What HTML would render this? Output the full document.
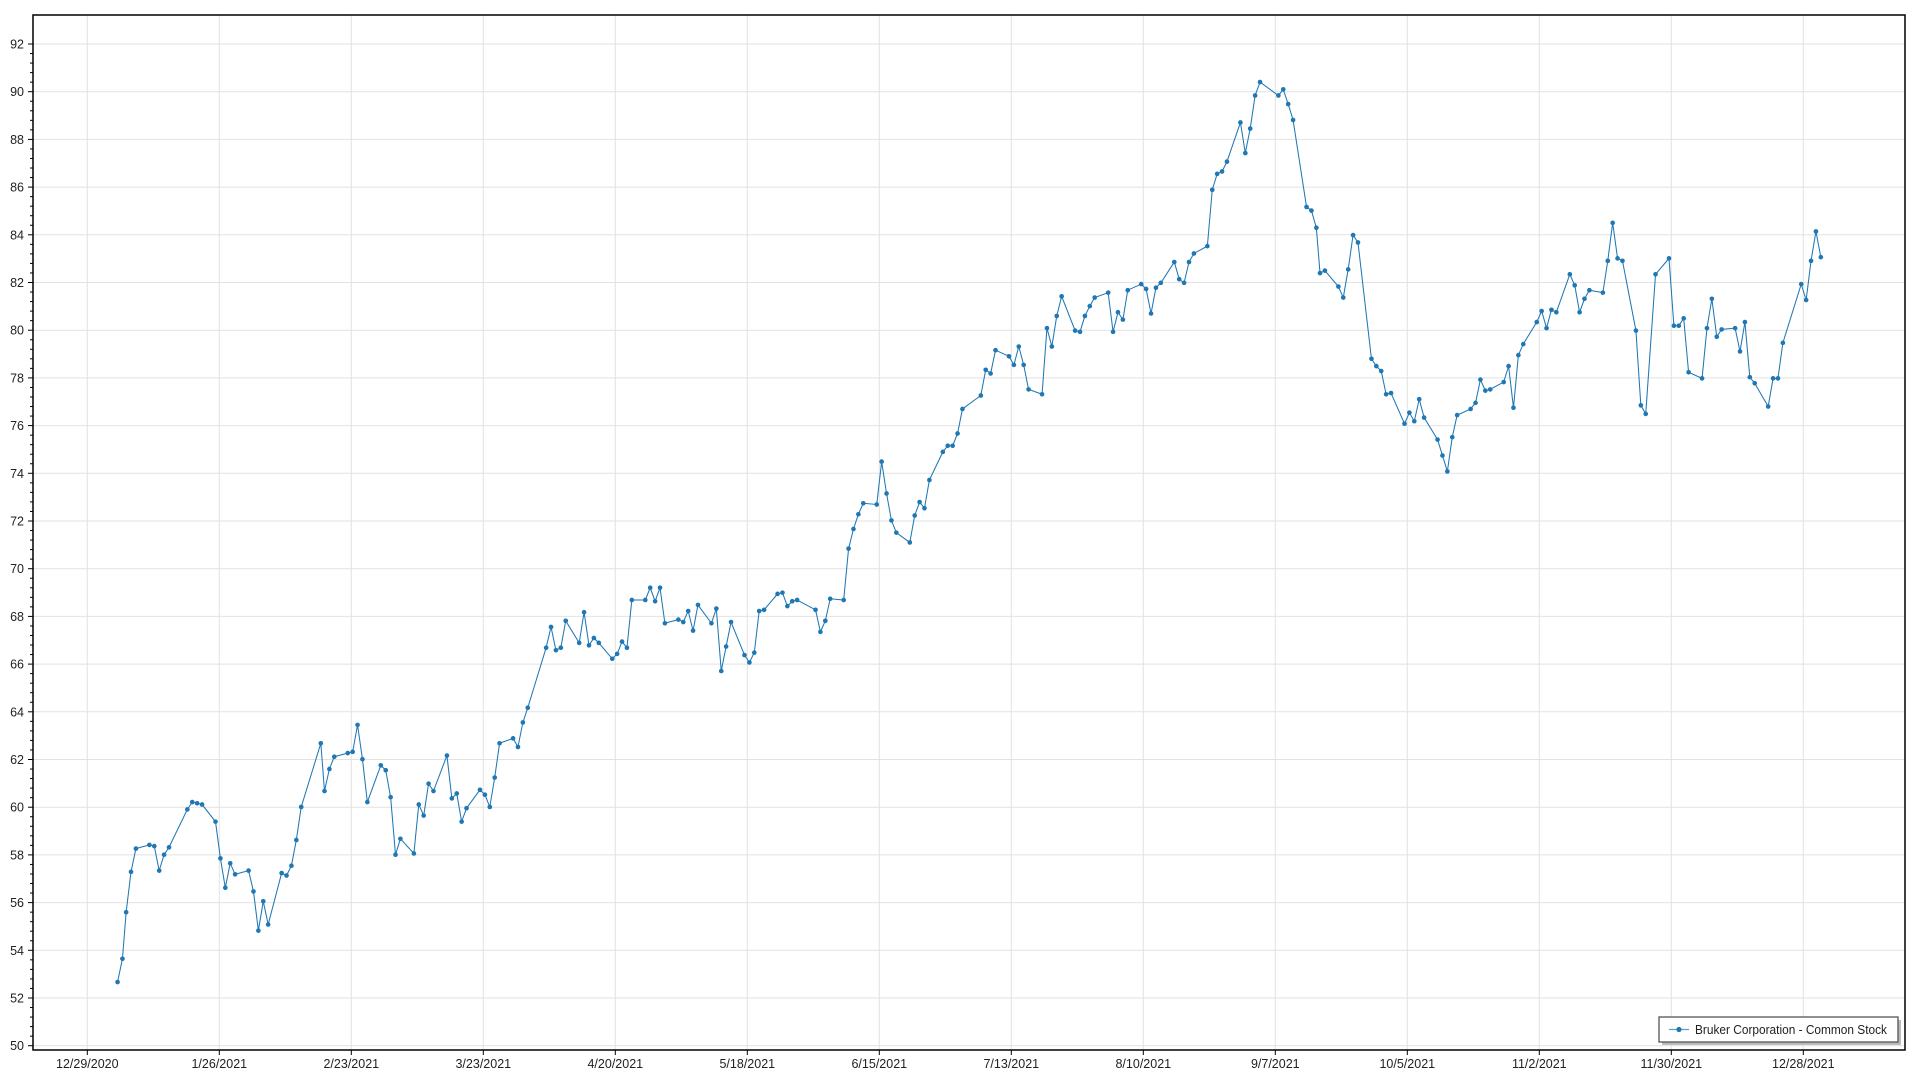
<!DOCTYPE html>
<html><head><meta charset="utf-8"><style>
html,body{margin:0;padding:0;background:#fff;}
svg text{font-family:"Liberation Sans","DejaVu Sans",sans-serif;font-size:12.5px;fill:#222;}
</style></head><body>
<svg id="s" width="1920" height="1080" viewBox="0 0 1920 1080" xmlns="http://www.w3.org/2000/svg">
<g id="grid"></g>
<g id="data" transform="scale(1.2245)"></g>
<rect x="33" y="15" width="1872" height="1035" fill="none" stroke="#000" stroke-width="1.5"/>
<g id="ticks"></g>
<rect x="1662" y="1020" width="239" height="25" fill="#bbb"/>
<rect x="1659" y="1017" width="239" height="25" fill="#fff" stroke="#555" stroke-width="1.3"/>
<line x1="1669" y1="1029.5" x2="1689" y2="1029.5" stroke="#1f77b4" stroke-width="1.3" opacity="0.7"/>
<circle cx="1679" cy="1029.5" r="2.6" fill="#1f77b4"/>
<text x="1695" y="1034" textLength="192" lengthAdjust="spacingAndGlyphs">Bruker Corporation - Common Stock</text>
</svg>
<script>
var ns="http://www.w3.org/2000/svg";
function el(p,t,a,txt){var e=document.createElementNS(ns,t);for(var k in a)e.setAttribute(k,a[k]);if(txt)e.textContent=txt;document.getElementById(p).appendChild(e);return e;}
function yv(v){return 44+(92-v)*23.85;}
for(var v=50;v<=92;v+=2){var y=yv(v);el('grid','line',{x1:33,x2:1905,y1:y,y2:y,stroke:'#e2e2e2','stroke-width':1});
el('ticks','line',{x1:28,x2:33,y1:y,y2:y,stroke:'#000'});el('ticks','text',{x:24,y:y+4.5,'text-anchor':'end'},String(v));
for(var m=1;m<5&&v<92;m++){var ym=yv(v+m*0.4);el('ticks','line',{x1:30,x2:33,y1:ym,y2:ym,stroke:'#000'});}}
var labs=["12/29/2020","1/26/2021","2/23/2021","3/23/2021","4/20/2021","5/18/2021","6/15/2021","7/13/2021","8/10/2021","9/7/2021","10/5/2021","11/2/2021","11/30/2021","12/28/2021"];
for(var i=0;i<labs.length;i++){var x=87.3+i*132;el('grid','line',{x1:x,x2:x,y1:15,y2:1050,stroke:'#e2e2e2'});
el('ticks','line',{x1:x,x2:x,y1:1050,y2:1055,stroke:'#000'});el('ticks','text',{x:x,y:1068,'text-anchor':'middle'},labs[i]);}
var d=[96,802,100,783,103,745,107,712,111,693,122,690,126,691,130,711,134,698,138,692,153,661,157,655,161,656,165,657,176,671,180,701,184,725,188,705,192,714,203,711,207,728,211,760,215,736,219,755,230,713,234,715,238,707,242,686,246,659,262,607,265,646,269,628,273,618,284,615,288,614,292,592,296,620,300,655,311,625,315,629,319,651,323,698,327,685,338,697,342,657,346,666,350,640,354,646,365,617,369,652,373,648,377,671,381,660,392,645,396,649,400,659,404,635,408,607,419,603,423,610,427,590,431,578,446,529,450,512,454,531,458,529,462,507,473,525,477,500,481,527,485,521,489,525,500,538,504,534,508,524,512,529,516,490,527,490,531,480,535,491,539,480,543,509,554,506,558,508,562,499,566,515,570,494,581,509,585,497,589,548,593,528,597,508,608,535,612,541,616,533,620,499,624,498,635,485,639,484,643,495,647,491,651,490,666,498,670,516,674,507,678,489,689,490,693,448,697,432,701,420,705,411,716,412,720,377,724,403,728,425,732,435,743,443,747,421,751,410,755,415,759,392,770,369,774,364,778,364,782,354,786,334,801,323,805,302,809,305,813,286,824,291,828,298,832,283,836,298,840,318,851,322,855,268,859,283,863,258,867,242,878,270,882,271,886,258,890,250,894,243,905,239,909,271,913,255,917,261,921,237,932,232,936,236,940,256,944,235,948,231,959,214,963,228,967,231,971,214,975,207,986,201,990,155,994,142,998,140,1002,132,1013,100,1017,125,1021,105,1025,78,1029,67,1044,78,1048,73,1052,85,1056,98,1067,169,1071,172,1075,186,1078,223,1082,221,1093,234,1097,243,1101,220,1105,192,1109,198,1120,293,1124,299,1128,303,1132,322,1136,321,1147,346,1151,337,1155,344,1159,326,1163,341,1174,359,1178,372,1182,385,1186,357,1190,339,1201,334,1205,329,1209,310,1213,319,1217,318,1228,312,1232,299,1236,333,1240,290,1244,281,1255,263,1259,254,1263,268,1267,253,1271,255,1282,224,1286,233,1290,255,1294,244,1298,237,1309,239,1313,213,1317,182,1321,211,1325,213,1336,270,1340,331,1344,338,1352,224,1363,211,1367,266,1371,266,1375,260,1379,304,1390,309,1394,268,1398,244,1402,275,1406,269,1417,268,1421,287,1425,263,1429,308,1433,313,1444,332,1448,309,1452,309,1456,280,1471,232,1475,245,1479,213,1483,189,1487,210];
var p="";for(var i=0;i<d.length;i+=2){p+=(i?"L":"M")+d[i]+" "+d[i+1];}
el('data','path',{d:p,fill:'none',stroke:'#1f77b4','stroke-width':0.85});
for(var i=0;i<d.length;i+=2)el('data','circle',{cx:d[i],cy:d[i+1],r:1.9,fill:'#1f77b4'});
</script>
</body></html>
